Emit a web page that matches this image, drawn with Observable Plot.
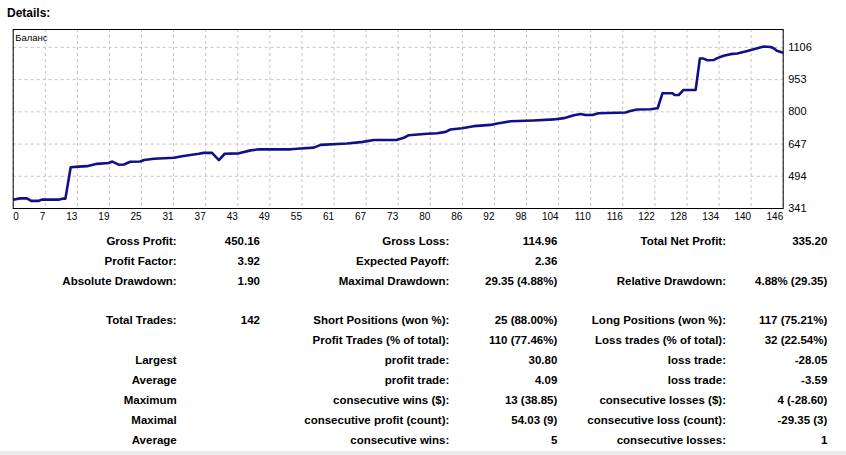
<!DOCTYPE html>
<html>
<head>
<meta charset="utf-8">
<script src="https://cdn.jsdelivr.net/npm/d3@7"></script>
<script src="https://cdn.jsdelivr.net/npm/@observablehq/plot@0.6"></script>
<style>
  html, body { margin: 0; padding: 0; background: #fff; }
  #page { position: relative; width: 846px; height: 455px; overflow: hidden; font-family: "Liberation Sans", Arial, sans-serif; color: #000; }
  #title { position: absolute; left: 7px; top: 6.5px; font-size: 12px; line-height: 12px; font-weight: bold; }
  #chart { position: absolute; left: 0; top: 0; }
  .cell { position: absolute; font-size: 11.5px; font-weight: bold; line-height: 20px; white-space: nowrap; text-align: right; }
  #band { position: absolute; left: 0; top: 451px; width: 846px; height: 4px; background: #ececec; }
</style>
</head>
<body>
<div id="page">
  <div id="chart"></div>
  <div id="title">Details:</div>
  <div id="band"></div>
</div>
<script>
// Balance curve (trade number, balance)
const balanceTrade = [0, 1.3, 2.6, 3.4, 4.8, 5.4, 8.6, 9.5, 9.9, 10.9, 12.4, 14, 15.9, 18.1, 18.8, 20, 21, 22.2, 24.1, 24.8, 26.7, 30.5, 32, 35.2, 36.1, 37.7, 39, 40.1, 42.8, 45, 46.6, 52.6, 54.5, 57, 58.3, 63.3, 65.9, 67.1, 68.4, 72.8, 74.1, 75, 78.5, 80.4, 82, 82.9, 85.1, 87.3, 90.5, 91.8, 94.3, 98.7, 102.5, 104.4, 106.3, 107.6, 108.5, 109.8, 111, 114.5, 116.1, 117, 118.3, 120.8, 122.2, 123.1, 125, 125.4, 126.2, 127.1, 129.4, 130.2, 130.9, 131.6, 132.8, 133.5, 134.7, 136, 137.3, 139.2, 141.1, 142.3, 143.6, 144.2, 144.8, 146];
const balanceValue = [383, 389, 389, 377, 377, 383, 383, 388, 388, 537, 540, 542, 553, 557, 564, 549, 550, 563, 564, 571, 577, 582, 589, 601, 605, 605, 571, 601, 603, 617, 622, 622, 626, 630, 643, 650, 656, 661, 666, 667, 677, 689, 696, 698, 705, 716, 722, 732, 738, 745, 755, 759, 764, 770, 784, 790, 785, 785, 793, 796, 797, 804, 811, 812, 817, 888, 888, 880, 880, 904, 904, 1053, 1053, 1045, 1046, 1055, 1066, 1074, 1077, 1089, 1102, 1110, 1108, 1102, 1090, 1081];

// Axis tick labels
const xTickLabels = [0, 7, 13, 19, 25, 31, 37, 43, 49, 55, 61, 67, 73, 80, 86, 92, 98, 104, 110, 116, 122, 128, 134, 140, 146];
const xMax = 146;
const yTickLabels = [341, 494, 647, 800, 953, 1106];
const yMax = 1191;
const seriesName = "Баланс";

// Report table
const labels1 = ["Gross Profit:", "Profit Factor:", "Absolute Drawdown:", "Total Trades:", "", "Largest", "Average", "Maximum", "Maximal", "Average"];
const values1 = ["450.16", "3.92", "1.90", "142", "", "", "", "", "", ""];
const labels2 = ["Gross Loss:", "Expected Payoff:", "Maximal Drawdown:", "Short Positions (won %):", "Profit Trades (% of total):", "profit trade:", "profit trade:", "consecutive wins ($):", "consecutive profit (count):", "consecutive wins:"];
const values2 = ["114.96", "2.36", "29.35 (4.88%)", "25 (88.00%)", "110 (77.46%)", "30.80", "4.09", "13 (38.85)", "54.03 (9)", "5"];
const labels3 = ["Total Net Profit:", "", "Relative Drawdown:", "Long Positions (won %):", "Loss trades (% of total):", "loss trade:", "loss trade:", "consecutive losses ($):", "consecutive loss (count):", "consecutive losses:"];
const values3 = ["335.20", "", "4.88% (29.35)", "117 (75.21%)", "32 (22.54%)", "-28.05", "-3.59", "4 (-28.60)", "-29.35 (3)", "1"];

const data = balanceTrade.map((t, i) => ({trade: t, balance: balanceValue[i]}));
const nX = xTickLabels.length;
const xTickPos = xTickLabels.map((d, i) => i * xMax / (nX - 1));

const gridStyle = {stroke: "#c4c4c4", strokeOpacity: 1, strokeDasharray: "3,3"};

const chart = Plot.plot({
  width: 846,
  height: 228,
  marginLeft: 12.7,
  marginRight: 63.3,
  marginTop: 29,
  marginBottom: 20,
  x: {domain: [0, xMax], axis: null},
  y: {domain: [yTickLabels[0], yMax], axis: null},
  style: {fontFamily: "'Liberation Sans', Arial, sans-serif", fontSize: "11px", color: "#000", background: "transparent"},
  marks: [
    Plot.gridY(yTickLabels, gridStyle),
    Plot.gridX(xTickPos, gridStyle),
    Plot.line(data, {x: "trade", y: "balance", stroke: "#101088", strokeWidth: 2.6, strokeLinejoin: "round", strokeLinecap: "butt"}),
    Plot.frame({stroke: "#000", strokeWidth: 1}),
    Plot.axisY(yTickLabels, {anchor: "right", label: null, tickSize: 0, tickPadding: 5, fontSize: 11, tickFormat: d => String(d)}),
    Plot.text(xTickLabels, {x: (d, i) => xTickPos[i], filter: (d, i) => i > 0, frameAnchor: "bottom", textAnchor: "end", lineAnchor: "middle", dy: 8, dx: 0, fontSize: 10, fill: "#000"}),
    Plot.text(xTickLabels, {x: (d, i) => xTickPos[i], filter: (d, i) => i === 0, frameAnchor: "bottom", textAnchor: "start", lineAnchor: "middle", dy: 8, dx: 0, fontSize: 10, fill: "#000"}),
    Plot.text([seriesName], {frameAnchor: "top-left", textAnchor: "start", lineAnchor: "middle", dx: 2, dy: 8, fontSize: 9.5, fill: "#000"})
  ]
});
document.getElementById("chart").appendChild(chart);

// Table layout
const page = document.getElementById("page");
const colRights = [176.7, 260, 449.3, 557.3, 726, 827.3];
const columns = [labels1, values1, labels2, values2, labels3, values3];
function rowCenter(i) { return 241 + 20 * i + (i >= 3 ? 19 : 0); }
columns.forEach((col, c) => {
  col.forEach((txt, i) => {
    if (!txt) return;
    const div = document.createElement("div");
    div.className = "cell";
    div.textContent = txt;
    div.style.right = (846 - colRights[c]) + "px";
    div.style.top = (rowCenter(i) - 9.9) + "px";
    page.appendChild(div);
  });
});
</script>
</body>
</html>
